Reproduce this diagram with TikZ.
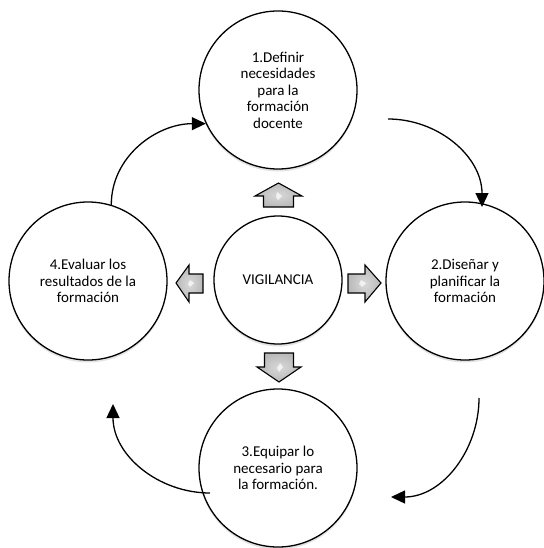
\documentclass[tikz,border=0pt]{standalone}
\usepackage{fontspec}
\setmainfont{Carlito}
\usetikzlibrary{arrows.meta,shadows}
\begin{document}
\begin{tikzpicture}[x=1pt,y=-1pt,
  stage/.style={circle, draw=black, line width=1.3pt, fill=white, minimum size=158pt,
    inner sep=0pt, align=center, font=\fontsize{15}{16.5}\selectfont,
    drop shadow={opacity=0.22, shadow xshift=0pt, shadow yshift=-2.5pt}},
  flow/.style={draw=black, line width=1.3pt, -{Triangle[length=14pt,width=13pt]}},
  blockarrow/.style={draw=black, line width=1.1pt, line join=miter, inner color=gray!30, outer color=gray!55},
  glint/.style={fill=white, opacity=0.7, draw=none}
]
\useasboundingbox (0,0) rectangle (543,548);

% stages
\node[stage] (s1) at (278,90) {1.Definir\\necesidades\\para la\\formación\\docente};
\node[stage] (s2) at (465,281) {2.Diseñar y\\planificar la\\formación};
\node[stage] (s3) at (278,468) {3.Equipar lo\\necesario para\\la formación.};
\node[stage] (s4) at (88,281) {4.Evaluar los\\resultados de la\\formación};
\node[stage, minimum size=128pt] (c) at (278,280) {VIGILANCIA};

% block arrows from the centre
\path[blockarrow] (263.5,207) -- (263.5,196) -- (255,196) -- (278.5,183) -- (302,196) -- (293.5,196) -- (293.5,207) -- cycle;
\path[blockarrow] (264.5,353) -- (264.5,367) -- (257,367) -- (279,382) -- (301,367) -- (293.5,367) -- (293.5,353) -- cycle;
\path[blockarrow] (348,274) -- (365,274) -- (365,265) -- (381,283) -- (365,302) -- (365,293) -- (348,293) -- cycle;
\path[blockarrow] (203,274) -- (189,274) -- (189,265) -- (176,283) -- (189,302) -- (189,293) -- (203,293) -- cycle;
% small highlights
\path[glint] (277,192) -- (282,196) -- (278,200) -- (276,197) -- cycle;
\path[glint] (280,363) -- (283,367) -- (279,372) -- (277,368) -- cycle;
\path[glint] (361,280) -- (366,283) -- (362,287) -- (359,284) -- cycle;
\path[glint] (190,280) -- (194,283) -- (190,287) -- (188,284) -- cycle;

% cycle connectors
\coordinate (a1s) at (s4.73);
\coordinate (a1e) at (s1.205);
\coordinate (a2s) at (388,119);
\coordinate (a2e) at (482,207);
\coordinate (a3s) at (479,398);
\coordinate (a3e) at (391,497);
\coordinate (a4s) at (210,493);
\coordinate (a4e) at (113,404);

\draw[flow] (a1s) to[out=90,in=180] (a1e);
\draw[flow] (a2s) to[out=0,in=90] (a2e);
\draw[flow] (a3s) to[out=-90,in=0] (a3e);
\draw[flow] (a4s) to[out=180,in=-90] (a4e);
\end{tikzpicture}
\end{document}
